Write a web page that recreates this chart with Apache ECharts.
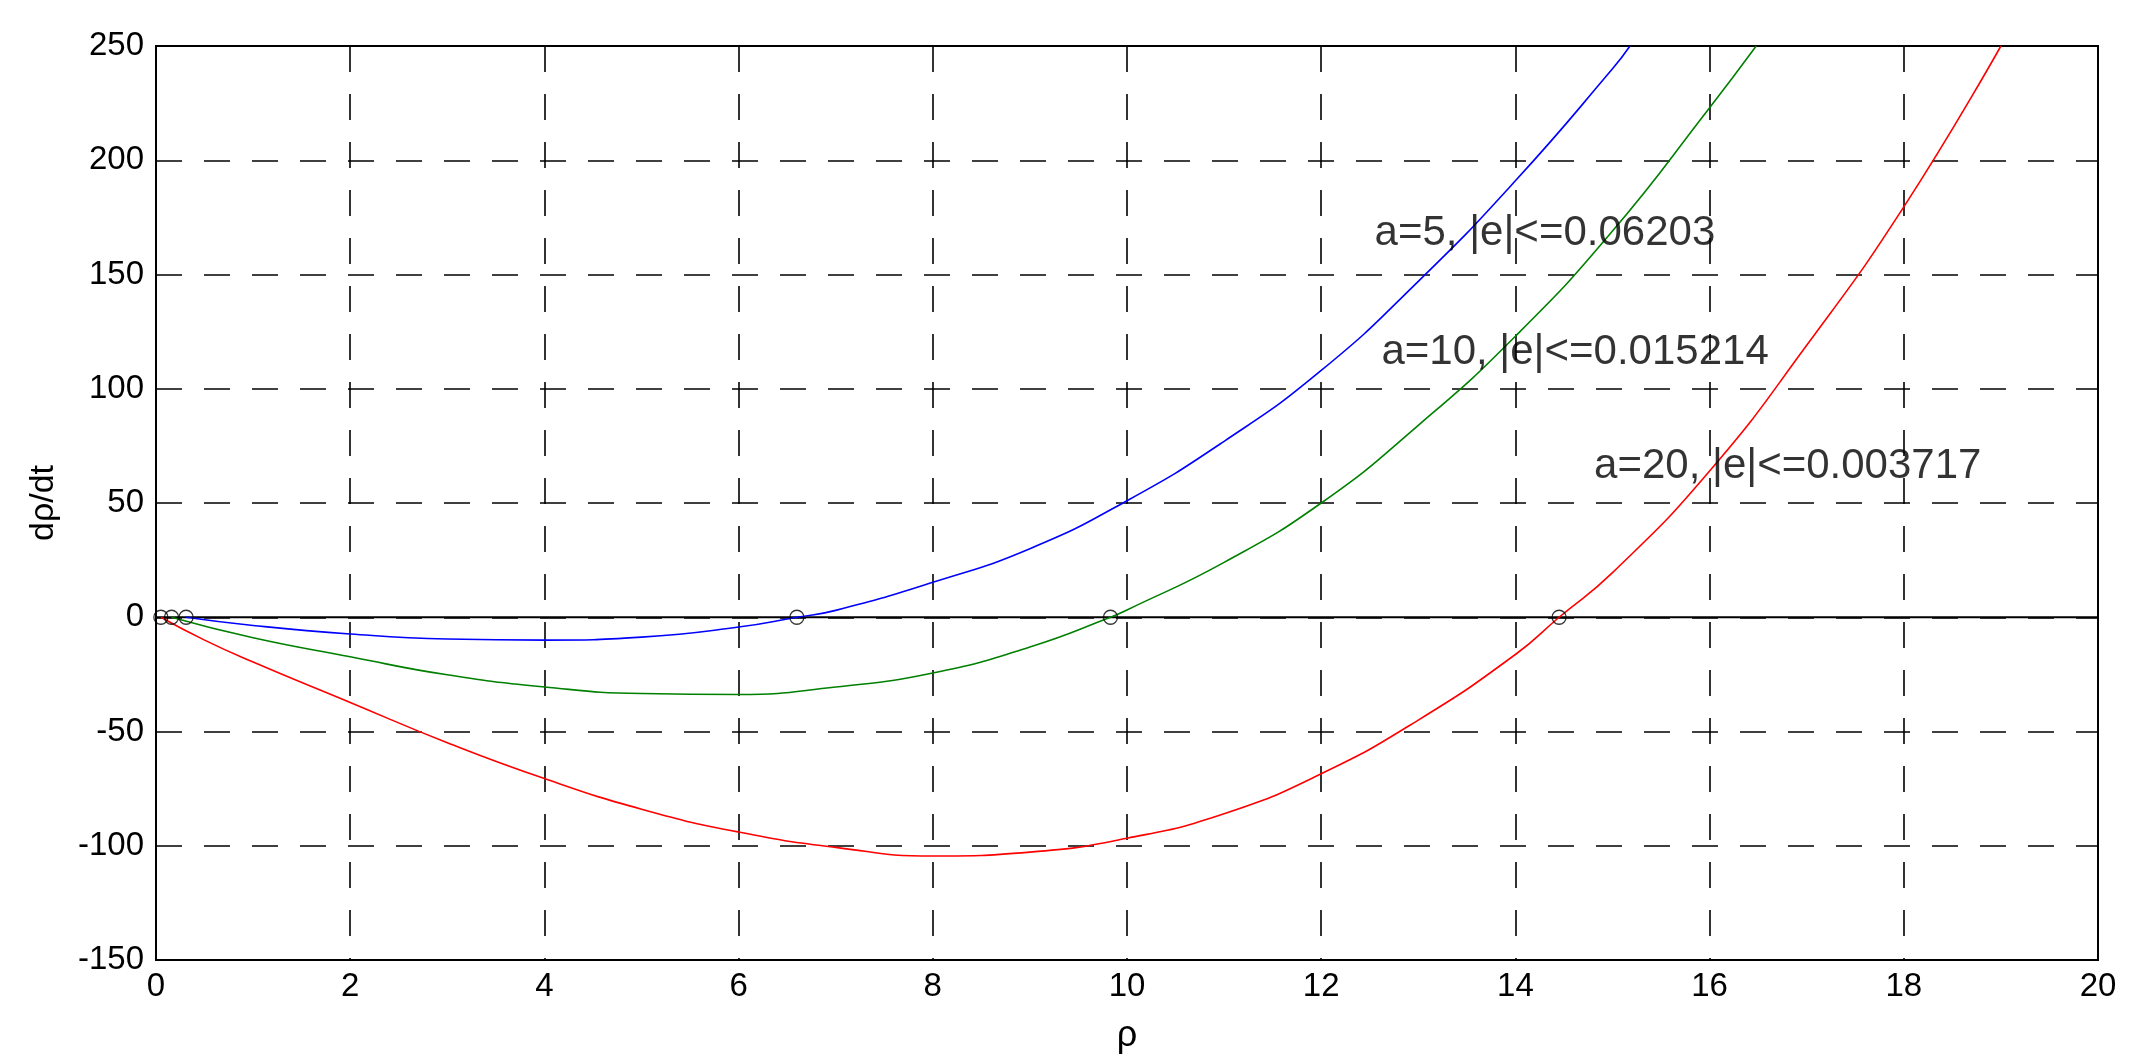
<!DOCTYPE html>
<html>
<head>
<meta charset="utf-8">
<script src="https://cdn.jsdelivr.net/npm/echarts@6/dist/echarts.min.js"></script>
<style>
html,body{margin:0;padding:0;background:#fff;}
#chart{width:2146px;height:1059px;}
</style>
</head>
<body>
<div id="chart"></div>
<script>
// ---- data ----
var xTicks = [0, 2, 4, 6, 8, 10, 12, 14, 16, 18, 20];
var yTicks = [-150, -100, -50, 0, 50, 100, 150, 200, 250];

var blueX = [0.31, 1, 2, 3, 4, 5, 6, 6.6, 7, 8, 9, 10, 11, 12, 13, 14, 15, 15.18];
var blueY = [0, -3.6, -7.3, -9.5, -10, -8.7, -4.3, 0, 3, 15.3, 30, 51, 77, 108, 147, 191, 240, 250];

var greenX = [0.16, 1, 2, 3, 4, 5, 6, 7, 8, 9, 9.83, 10, 11, 12, 13, 14, 15, 16, 16.48];
var greenY = [0, -9, -17.3, -25.2, -30.5, -33.4, -33.8, -30.5, -24.4, -13, 0, 3.2, 24, 50, 84, 123, 169, 223, 250];

var redX = [0.05, 0.5, 1, 2, 3, 4, 5, 6, 7, 8, 9, 10, 11, 12, 13, 14, 14.45, 15, 16, 17, 18, 19];
var redY = [0, -10, -19.6, -37.3, -54.9, -70.6, -84, -94, -100.7, -104.5, -102.8, -96.7, -86, -68.5, -45, -16.3, 0, 19.5, 64, 119, 179.6, 250];

var rootsX = [0.05, 0.16, 0.31, 6.6, 9.83, 14.45];
var rootsY = [0, 0, 0, 0, 0, 0];

var labelText = ['a=5, |e|<=0.06203', 'a=10, |e|<=0.015214', 'a=20, |e|<=0.003717'];
var labelX = [12.55, 12.62, 14.81];
var labelY = [167.8, 115.8, 66.1];

var xName = 'ρ';
var yName = 'dρ/dt';

// ---- build ----
function zip(xs, ys) { return xs.map(function (x, i) { return [x, ys[i]]; }); }
var font = '"Liberation Sans", Arial, Helvetica, sans-serif';

var chart = echarts.init(document.getElementById('chart'));
var gridDash = { color: '#000', width: 1.6, type: [26, 22] };

function curve(name, xs, ys, color) {
  return {
    name: name, type: 'line', data: zip(xs, ys), showSymbol: false,
    smooth: 0.5,
    lineStyle: { color: color, width: 1.6 }, itemStyle: { color: color },
    z: 3, silent: true
  };
}

chart.setOption({
  animation: false,
  backgroundColor: '#fff',
  grid: { left: 156, right: 48, top: 46, bottom: 79, show: true, borderColor: '#000', borderWidth: 2, backgroundColor: 'transparent' },
  xAxis: {
    type: 'value', min: xTicks[0], max: xTicks[xTicks.length - 1], interval: 2,
    name: xName, nameLocation: 'middle', nameGap: 58,
    nameTextStyle: { fontSize: 36, color: '#000', fontFamily: font },
    axisLine: { show: true, onZero: false, lineStyle: { color: '#000', width: 2 } },
    axisTick: { show: false },
    axisLabel: { fontSize: 33, color: '#000', fontFamily: font, margin: 10 },
    splitLine: { show: true, lineStyle: gridDash }
  },
  yAxis: {
    type: 'value', min: yTicks[0], max: yTicks[yTicks.length - 1], interval: 50,
    name: yName, nameLocation: 'middle', nameGap: 95, nameRotate: 90,
    nameTextStyle: { fontSize: 34, color: '#000', fontFamily: font },
    axisLine: { show: true, onZero: false, lineStyle: { color: '#000', width: 2 } },
    axisTick: { show: false },
    axisLabel: { fontSize: 33, color: '#000', fontFamily: font, margin: 12 },
    splitLine: { show: true, lineStyle: gridDash }
  },
  series: [
    {
      type: 'line', data: [[xTicks[0], 0], [xTicks[xTicks.length - 1], 0]], showSymbol: false,
      lineStyle: { color: '#000', width: 2.2 }, z: 2, silent: true
    },
    curve('a=5', blueX, blueY, '#0000ff'),
    curve('a=10', greenX, greenY, '#008000'),
    curve('a=20', redX, redY, '#ff0000'),
    {
      type: 'scatter', data: zip(rootsX, rootsY), symbol: 'circle', symbolSize: 14,
      itemStyle: { color: 'rgba(0,0,0,0)', borderColor: '#000', borderWidth: 1.3 }, z: 5, silent: true
    },
    {
      type: 'scatter', symbolSize: 0, z: 6, silent: true,
      data: labelText.map(function (t, i) { return { name: t, value: [labelX[i], labelY[i]] }; }),
      label: {
        show: true, position: 'right', distance: 0, formatter: '{b}',
        fontSize: 42, color: '#000', fontFamily: font, align: 'left', verticalAlign: 'middle'
      }
    }
  ]
});
</script>
</body>
</html>
